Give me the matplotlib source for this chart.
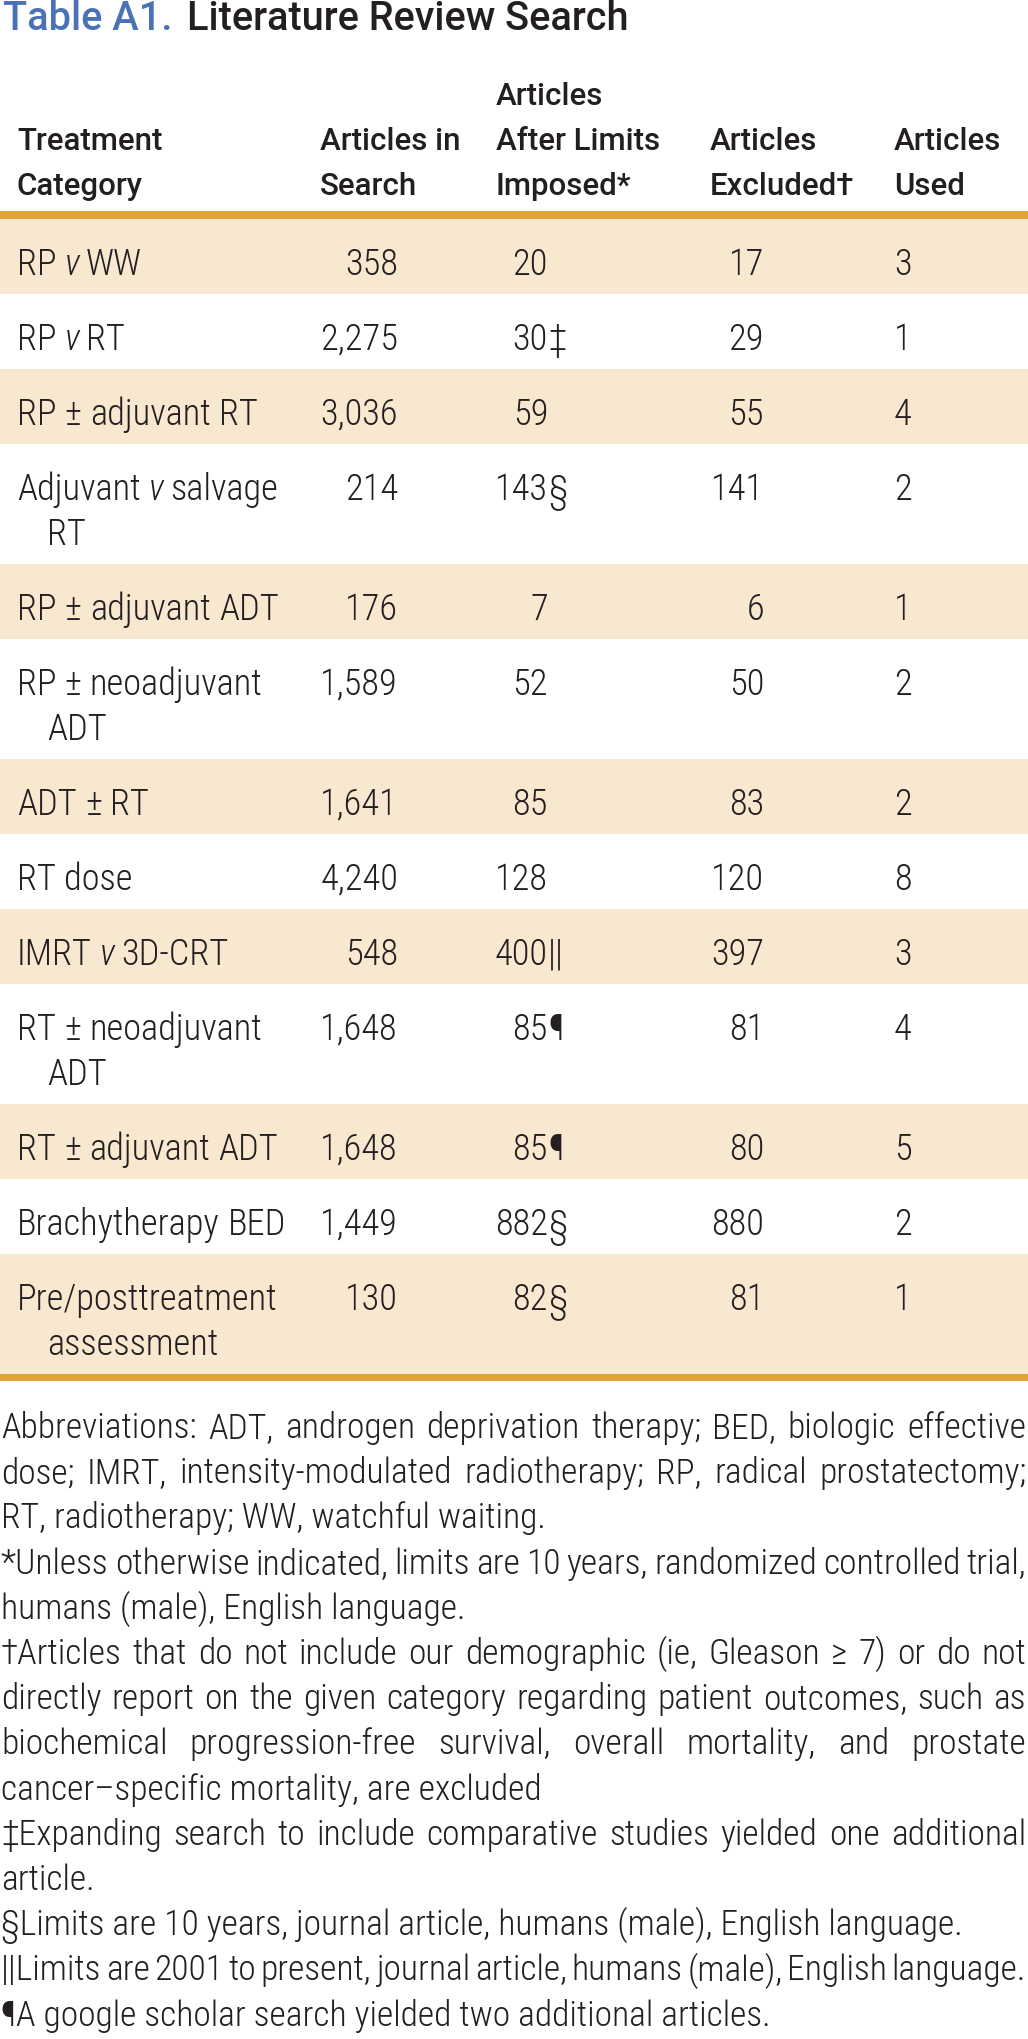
import matplotlib
matplotlib.use("Agg")
import matplotlib.pyplot as plt

# ---------------- data ----------------
title_label = "Table A1."
title_text = "Literature Review Search"

header_lines = [
    ["", "Treatment", "Category"],
    ["", "Articles in", "Search"],
    ["Articles", "After Limits", "Imposed*"],
    ["", "Articles", "Excluded\u2020"],
    ["", "Articles", "Used"],
]

categories = [
    "RP v WW",
    "RP v RT",
    "RP \u00b1 adjuvant RT",
    "Adjuvant v salvage\nRT",
    "RP \u00b1 adjuvant ADT",
    "RP \u00b1 neoadjuvant\nADT",
    "ADT \u00b1 RT",
    "RT dose",
    "IMRT v 3D-CRT",
    "RT \u00b1 neoadjuvant\nADT",
    "RT \u00b1 adjuvant ADT",
    "Brachytherapy BED",
    "Pre/posttreatment\nassessment",
]
articles_in_search = [358, 2275, 3036, 214, 176, 1589, 1641, 4240, 548, 1648, 1648, 1449, 130]
articles_after_limits = [20, 30, 59, 143, 7, 52, 85, 128, 400, 85, 85, 882, 82]
after_limits_marks = ["", "\u2021", "", "\u00a7", "", "", "", "", "||", "\u00b6", "\u00b6", "\u00a7", "\u00a7"]
articles_excluded = [17, 29, 55, 141, 6, 50, 83, 120, 397, 81, 80, 880, 81]
articles_used = [3, 1, 4, 2, 1, 2, 2, 8, 3, 4, 5, 2, 1]

# (text, justified)
footnote_lines = [
    ("Abbreviations: ADT, androgen deprivation therapy; BED, biologic effective", True),
    ("dose; IMRT, intensity-modulated radiotherapy; RP, radical prostatectomy;", True),
    ("RT, radiotherapy; WW, watchful waiting.", False),
    ("*Unless otherwise indicated, limits are 10 years, randomized controlled trial,", True),
    ("humans (male), English language.", False),
    ("\u2020Articles that do not include our demographic (ie, Gleason \u2265 7) or do not", True),
    ("directly report on the given category regarding patient outcomes, such as", True),
    ("biochemical progression-free survival, overall mortality, and prostate", True),
    ("cancer\u2013specific mortality, are excluded", False),
    ("\u2021Expanding search to include comparative studies yielded one additional", True),
    ("article.", False),
    ("\u00a7Limits are 10 years, journal article, humans (male), English language.", False),
    ("||Limits are 2001 to present, journal article, humans (male), English language.", True),
    ("\u00b6A google scholar search yielded two additional articles.", False),
]

# ---------------- style ----------------
W, H = 1028, 2039
FAM = ["Roboto Condensed", "Liberation Sans Narrow", "Roboto", "DejaVu Sans"]
FAM_HEAD = ["Roboto", "DejaVu Sans"]
TEXT = "#231f20"
BLUE = "#4a72b5"
SHADE = "#f9e8d0"
RULE = "#e1a23a"
BODY_W = "light"

fig = plt.figure(figsize=(W / 100, H / 100), dpi=100)
ax = fig.add_axes([0, 0, 1, 1])
ax.set_xlim(0, W)
ax.set_ylim(H, 0)
ax.axis("off")
renderer = fig.canvas.get_renderer()


def width(s, size, weight="normal", style="normal", fam=FAM):
    t = ax.text(0, 0, s, fontsize=size, family=fam, fontweight=weight, fontstyle=style)
    w = t.get_window_extent(renderer).width
    t.remove()
    return w


def fit(s, target, weight="normal", fam=FAM):
    base = 20.0
    return base * target / width(s, base, weight, fam=fam)


def put(x, y, s, size, weight="normal", style="normal", ha="left", color=TEXT, fam=FAM):
    ax.text(x, y, s, fontsize=size, family=fam, fontweight=weight, fontstyle=style,
            ha=ha, va="baseline", color=color)


def space_w(size, weight="normal"):
    return width("x x", size, weight) - width("xx", size, weight)


def put_words(x, y, s, size, weight="normal"):
    sp = space_w(size, weight)
    for w in s.split(" "):
        style = "italic" if w == "v" else "normal"
        put(x, y, w, size, weight, style)
        x += width(w, size, weight, style) + sp * (0.75 if w == "v" else 1.0)


# font sizes fitted to reference widths
title_size = fit(title_text, 442, "medium", FAM_HEAD)
head_size = fit("After Limits", 165, "medium", FAM_HEAD)
body_size = fit("Brachytherapy BED", 269, BODY_W)
note_size = fit("\u00a7Limits are 10 years, journal article, humans (male), English language.", 957, BODY_W)

# ---------------- title ----------------
put(3, 30, title_label, title_size, "medium", color=BLUE, fam=FAM_HEAD)
put(187, 30, title_text, title_size, "medium", fam=FAM_HEAD)

# ---------------- header ----------------
head_x = [17, 320, 496, 710, 894]
head_base = [105, 150, 195]
for col, lines in enumerate(header_lines):
    for i, s in enumerate(lines):
        if s:
            put(head_x[col], head_base[i], s, head_size, "medium", fam=FAM_HEAD)

# ---------------- body ----------------
rule_top = 211
ax.axhspan(rule_top, rule_top + 8, color=RULE, lw=0, zorder=2)
top = rule_top + 8
line_h = 45
for r, cat in enumerate(categories):
    parts = cat.split("\n")
    h = 75 + line_h * (len(parts) - 1)
    if r % 2 == 0:
        ax.axhspan(top, top + h, color=SHADE, lw=0, zorder=0)
    b = top + 56
    for i, p in enumerate(parts):
        put_words(17 if i == 0 else 47, b + i * line_h, p, body_size, BODY_W)
    put(398, b, f"{articles_in_search[r]:,}", body_size, BODY_W, ha="right")
    put(548, b, str(articles_after_limits[r]), body_size, BODY_W, ha="right")
    if after_limits_marks[r]:
        put(548, b, after_limits_marks[r], body_size, BODY_W, ha="left")
    put(764, b, str(articles_excluded[r]), body_size, BODY_W, ha="right")
    put(894, b, str(articles_used[r]), body_size, BODY_W, ha="left")
    top += h
ax.axhspan(top, top + 7, color=RULE, lw=0, zorder=2)

# ---------------- footnotes ----------------
x0, x1 = 1, 1026
note_base = top + 64
note_step = 45.2
for i, (s, just) in enumerate(footnote_lines):
    y = note_base + i * note_step
    if just:
        words = s.split(" ")
        ws = [width(w, note_size, BODY_W) for w in words]
        gap = (x1 - x0 - sum(ws)) / (len(words) - 1)
        x = x0
        for w, wd in zip(words, ws):
            put(x, y, w, note_size, BODY_W)
            x += wd + gap
    else:
        put(x0, y, s, note_size, BODY_W)

fig.savefig("out.png", dpi=100)
